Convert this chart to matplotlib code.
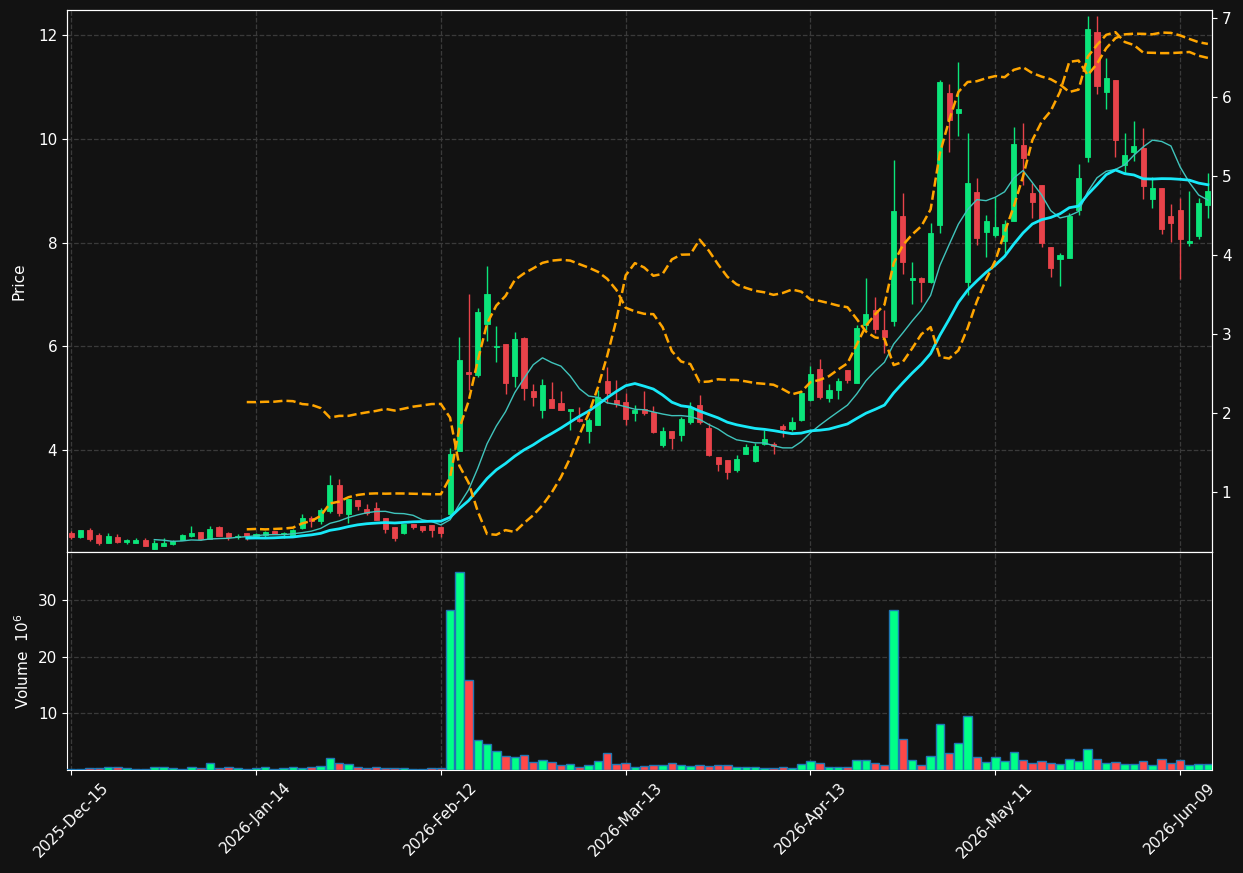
import numpy as np
import pandas as pd
import matplotlib
matplotlib.use('Agg')
import matplotlib.pyplot as plt
from matplotlib.ticker import MultipleLocator, FixedLocator

# daily OHLC (price), volume in millions
opens = [2.405, 2.328, 2.463, 2.367, 2.212, 2.328, 2.238, 2.219, 2.27, 2.103,
         2.161, 2.20, 2.27, 2.347, 2.424, 2.29, 2.52, 2.405, 2.32, 2.405,
         2.34, 2.36, 2.44, 2.386, 2.334, 2.508, 2.70, 2.643, 2.829, 3.323,
         2.771, 3.04, 2.867, 2.893, 2.694, 2.527, 2.411, 2.579, 2.546, 2.56,
         2.527, 2.77, 3.984, 5.506, 5.449, 6.431, 5.98, 6.046, 5.43, 6.161,
         5.14, 4.774, 4.98, 4.903, 4.76, 4.60, 4.376, 4.491, 5.333, 4.967,
         4.92, 4.723, 4.787, 4.736, 4.10, 4.37, 4.292, 4.537, 4.87, 4.434,
         3.869, 3.81, 3.618, 3.933, 3.79, 4.113, 4.125, 4.466, 4.402, 4.582,
         4.967, 5.564, 5.012, 5.16, 5.545, 5.301, 6.412, 6.701, 6.316, 6.496,
         8.519, 7.28, 7.318, 7.247, 8.345, 10.882, 10.49, 7.247, 8.975, 8.211,
         8.147, 8.031, 8.417, 9.88, 8.956, 9.11, 7.909, 7.678, 7.697, 8.629,
         9.643, 12.058, 10.908, 11.133, 9.496, 9.752, 9.83, 8.847, 9.052, 8.513,
         8.629, 8.0, 8.134, 8.725]
highs = [2.45, 2.47, 2.495, 2.40, 2.40, 2.38, 2.296, 2.31, 2.30, 2.27,
         2.30, 2.28, 2.38, 2.54, 2.43, 2.54, 2.55, 2.42, 2.38, 2.41,
         2.41, 2.45, 2.45, 2.43, 2.49, 2.765, 2.74, 2.893, 3.523, 3.446,
         3.06, 3.04, 2.964, 3.0, 2.694, 2.527, 2.579, 2.579, 2.546, 2.56,
         2.54, 4.04, 6.187, 7.0, 6.73, 7.55, 6.40, 6.046, 6.27, 6.18,
         5.27, 5.365, 5.307, 5.134, 4.77, 4.826, 4.626, 5.16, 5.596, 5.35,
         5.11, 4.864, 5.134, 4.85, 4.453, 4.37, 4.646, 4.92, 5.063, 4.53,
         3.869, 3.81, 3.90, 4.113, 4.133, 4.382, 4.158, 4.504, 4.633, 5.14,
         5.63, 5.75, 5.27, 5.40, 5.545, 6.406, 7.31, 6.958, 6.70, 9.59,
         8.95, 7.62, 7.34, 8.384, 11.13, 11.05, 11.47, 10.105, 9.24, 8.532,
         8.885, 8.436, 10.22, 10.30, 9.142, 9.11, 7.909, 7.806, 8.577, 9.508,
         12.366, 12.366, 11.55, 11.133, 10.106, 10.344, 10.2, 9.27, 9.052, 8.738,
         8.853, 8.995, 8.853, 9.335]
lows = [2.29, 2.31, 2.257, 2.18, 2.21, 2.212, 2.186, 2.21, 2.155, 2.10,
        2.16, 2.167, 2.27, 2.32, 2.28, 2.29, 2.347, 2.28, 2.29, 2.27,
        2.33, 2.33, 2.38, 2.30, 2.334, 2.488, 2.527, 2.578, 2.784, 2.733,
        2.59, 2.85, 2.752, 2.656, 2.398, 2.257, 2.379, 2.475, 2.43, 2.334,
        2.32, 2.72, 3.984, 5.16, 5.417, 6.11, 5.705, 5.08, 5.224, 4.967,
        4.85, 4.614, 4.82, 4.78, 4.39, 4.543, 4.132, 4.491, 4.915, 4.838,
        4.485, 4.57, 4.678, 4.325, 4.055, 4.03, 4.183, 4.505, 4.505, 3.888,
        3.605, 3.451, 3.59, 3.92, 3.772, 4.10, 3.926, 4.247, 4.38, 4.57,
        4.94, 4.98, 4.92, 4.98, 5.29, 5.301, 6.317, 6.265, 5.867, 6.393,
        7.395, 6.81, 6.85, 7.215, 8.185, 9.752, 10.06, 6.99, 7.954, 7.73,
        8.10, 7.806, 8.417, 9.11, 8.468, 7.92, 7.344, 7.17, 7.697, 8.533,
        9.546, 10.857, 10.568, 9.656, 9.335, 9.579, 8.834, 8.66, 8.16, 8.006,
        7.293, 7.935, 8.064, 8.468]
closes = [2.328, 2.463, 2.29, 2.212, 2.347, 2.238, 2.27, 2.27, 2.155, 2.212,
          2.212, 2.245, 2.367, 2.405, 2.29, 2.482, 2.347, 2.322, 2.347, 2.34,
          2.39, 2.425, 2.386, 2.41, 2.463, 2.70, 2.636, 2.848, 3.323, 2.797,
          3.06, 2.925, 2.797, 2.656, 2.488, 2.315, 2.579, 2.527, 2.463, 2.463,
          2.40, 3.926, 5.738, 5.468, 6.662, 7.01, 5.99, 5.301, 6.142, 5.204,
          5.031, 5.256, 4.82, 4.78, 4.77, 4.556, 4.582, 5.031, 5.095, 4.89,
          4.60, 4.774, 4.723, 4.35, 4.37, 4.241, 4.601, 4.838, 4.55, 3.907,
          3.734, 3.586, 3.83, 4.061, 4.08, 4.215, 4.08, 4.415, 4.543, 5.095,
          5.468, 5.032, 5.16, 5.333, 5.352, 6.354, 6.624, 6.335, 6.188, 8.609,
          7.633, 7.31, 7.247, 8.185, 11.1, 10.369, 10.57, 9.149, 8.095, 8.41,
          8.294, 8.352, 9.90, 9.637, 8.789, 8.0, 7.505, 7.755, 8.513, 9.238,
          12.116, 11.02, 11.165, 9.977, 9.688, 9.862, 9.097, 9.052, 8.256, 8.372,
          8.064, 8.03, 8.764, 9.0]
volumes = [0.15, 0.2, 0.3, 0.3, 0.55, 0.55, 0.35, 0.1, 0.1, 0.55,
           0.55, 0.35, 0.1, 0.55, 0.3, 1.25, 0.3, 0.55, 0.3, 0.1,
           0.3, 0.55, 0.15, 0.3, 0.55, 0.3, 0.55, 0.74, 2.15, 1.25,
           1.1, 0.55, 0.3, 0.55, 0.3, 0.3, 0.3, 0.1, 0.1, 0.3,
           0.3, 28.2, 34.9, 15.95, 5.3, 4.6, 3.4, 2.5, 2.3, 2.7,
           1.45, 1.8, 1.45, 0.9, 1.1, 0.56, 0.9, 1.6, 3.0, 1.1,
           1.27, 0.56, 0.74, 0.9, 0.9, 1.27, 0.9, 0.74, 0.9, 0.74,
           0.9, 0.9, 0.56, 0.56, 0.56, 0.38, 0.38, 0.56, 0.38, 1.1,
           1.6, 1.27, 0.56, 0.56, 0.56, 1.8, 1.8, 1.27, 0.9, 28.3,
           5.5, 1.8, 0.9, 2.5, 8.2, 3.0, 4.8, 9.6, 2.3, 1.45,
           2.3, 1.6, 3.2, 1.8, 1.27, 1.6, 1.27, 1.1, 2.0, 1.6,
           3.7, 2.0, 1.27, 1.45, 1.1, 1.1, 1.6, 0.9, 2.0, 1.27,
           1.8, 0.9, 1.1, 1.1]

holidays = ['2025-12-25', '2026-01-01', '2026-01-19', '2026-02-16',
            '2026-04-03', '2026-05-25']
days = pd.bdate_range('2025-12-15', periods=140)
days = days[~days.isin(pd.to_datetime(holidays))][:len(closes)]

df = pd.DataFrame({'Open': opens, 'High': highs, 'Low': lows,
                   'Close': closes, 'Volume': volumes}, index=days)
df['ma10'] = df.Close.rolling(10).mean()
df['ma20'] = df.Close.rolling(20).mean()
std20 = df.Close.rolling(20).std()
df['bb_up'] = df.ma20 + 2 * std20
df['bb_lo'] = df.ma20 - 2 * std20

bg = '#121212'
up_c, down_c = '#0be57a', '#e8434a'
vup_c, vdown_c = '#00ff88', '#ff4848'
grid_c = '#3a3a3a'

plt.rcParams['font.family'] = 'DejaVu Sans'
fig = plt.figure(figsize=(12.43, 8.73), dpi=100, facecolor=bg)
ax = fig.add_axes([0.0539, 0.3677, 0.9212, 0.6209])
axv = fig.add_axes([0.0539, 0.1180, 0.9212, 0.2497], sharex=ax)
ax2 = ax.twinx()

x = np.arange(len(df))
isup = (df.Close >= df.Open).values
ccol = np.where(isup, up_c, down_c)
vcol = np.where(isup, vup_c, vdown_c)

# candles
body_lo = np.minimum(df.Open, df.Close)
body_h = np.maximum(np.abs(df.Close - df.Open), 0.025)
ax.vlines(x, df.Low, df.High, colors=ccol, linewidth=1, zorder=2)
ax.bar(x, body_h, bottom=body_lo, width=0.55, color=ccol, edgecolor=ccol,
       linewidth=0.6, zorder=3)

# moving averages
ax.plot(x, df.ma10, color='#40c4bc', linewidth=1.0, zorder=4)
ax.plot(x, df.ma20, color='#18e8f8', linewidth=2.0, zorder=4)

# bollinger bands (upper on price axis, lower on secondary axis)
ax.plot(x, df.bb_up, color='orange', linestyle='--', linewidth=1.8, zorder=4)
ax2.plot(x, df.bb_lo, color='orange', linestyle='--', linewidth=1.8, zorder=4)

# volume
axv.bar(x, df.Volume, width=0.92, color=vcol, edgecolor='#1f77b4',
        linewidth=1.0, zorder=3)

ax.set_xlim(-0.45, len(df) - 0.55)
ax.set_ylim(2.04, 12.48)
ax2.set_ylim(0.24, 7.10)
axv.set_ylim(0, 38.5)

ax.yaxis.set_major_locator(MultipleLocator(2))
ax2.yaxis.set_major_locator(MultipleLocator(1))
axv.yaxis.set_major_locator(FixedLocator([10, 20, 30]))

tick_pos = list(range(0, len(df), 20))
axv.set_xticks(tick_pos)
axv.set_xticklabels([days[i].strftime('%Y-%b-%d') for i in tick_pos],
                    rotation=45)
plt.setp(ax.get_xticklabels(), visible=False)

ax.set_ylabel('Price', color='white', fontsize=11, labelpad=8)
axv.set_ylabel('Volume  $10^{6}$', color='white', fontsize=11)

for a in (ax, axv, ax2):
    a.set_facecolor(bg)
    for s in a.spines.values():
        s.set_color('white')
    a.tick_params(colors='white', labelsize=11)
ax.patch.set_visible(True)
ax2.patch.set_visible(False)
ax.tick_params(axis='x', length=0)

for a in (ax, axv):
    a.grid(True, color=grid_c, linestyle='--', linewidth=0.9)
    a.set_axisbelow(True)

fig.savefig('out.png', dpi=100, facecolor=bg)
